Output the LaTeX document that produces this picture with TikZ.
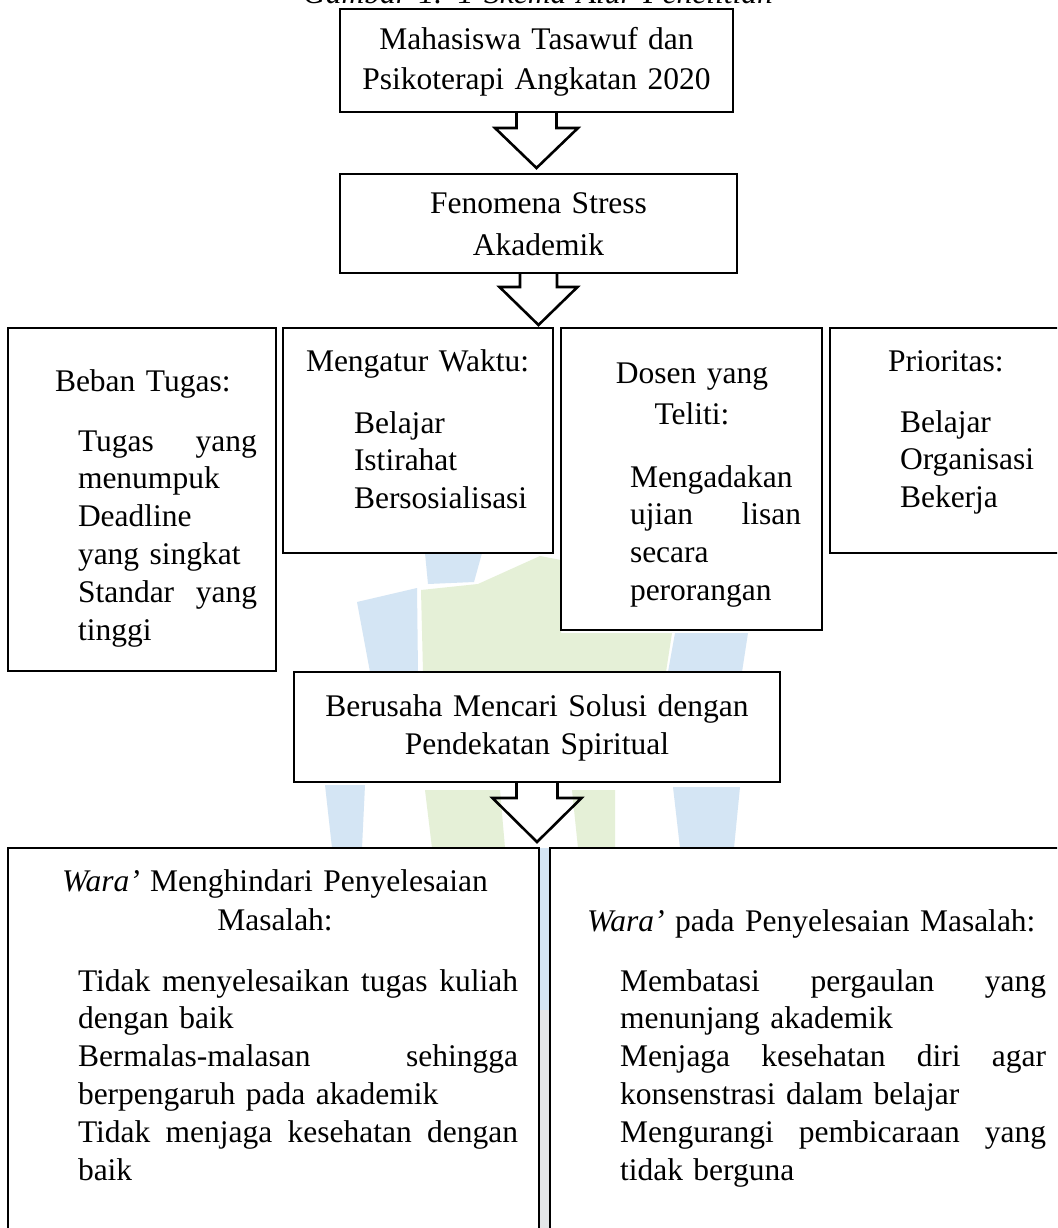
\documentclass[tikz,border=0pt]{standalone}
\usepackage{fontspec}
\setmainfont{Liberation Serif}
\usetikzlibrary{calc}
\definecolor{wblue}{RGB}{212,229,244}
\definecolor{wgreen}{RGB}{229,240,215}
\definecolor{wgray}{RGB}{228,230,232}
\newcommand\blockarrow[6]{%
  \draw[arrowline] let \p1=(#1.south), \p2=(#2.north) in
    (\x1-#3,\y1) -- (\x1-#3,\y1-#5) -- (\x1-#4,\y1-#5) -- (\x1,\y2+#6)
    -- (\x1+#4,\y1-#5) -- (\x1+#3,\y1-#5) -- (\x1+#3,\y1);
}
\tikzset{
  boxnode/.style={draw=black, line width=2.8pt, fill=white, inner sep=0pt, outer sep=0pt},
  arrowline/.style={draw=black, line width=2.6pt, line join=miter},
  body/.style={inner sep=0pt, outer sep=0pt, font=\fontsize{31.5}{37.8}\selectfont, align=left, anchor=base west},
  title/.style={inner sep=0pt, outer sep=0pt, font=\fontsize{31.5}{40}\selectfont, align=center, anchor=base},
}
\begin{document}
\begin{tikzpicture}[x=1pt, y=-1pt]
\useasboundingbox (0,0) rectangle (1057,1228);
\clip (0,0) rectangle (1057,1228);
\fill[white] (0,0) rectangle (1057,1228);

% faint watermark patches
\fill[wblue]  (357,602) -- (417,588) -- (418,672) -- (370,672) -- cycle;
\fill[wblue]  (425,553) -- (482,553) -- (474,582) -- (428,584) -- cycle;
\fill[wgreen] (421,590) -- (478,584) -- (540,556) -- (561,560) -- (561,672) -- (423,672) -- cycle;
\fill[wgreen] (561,633) -- (672,633) -- (666,672) -- (561,672) -- cycle;
\fill[wblue]  (675,633) -- (748,633) -- (742,672) -- (668,672) -- cycle;
\fill[wblue]  (325,785) -- (365,785) -- (362,848) -- (332,848) -- cycle;
\fill[wgreen] (425,790) -- (500,790) -- (505,848) -- (432,848) -- cycle;
\fill[wgreen] (572,790) -- (615,790) -- (615,848) -- (578,848) -- cycle;
\fill[wblue]  (673,787) -- (740,787) -- (734,848) -- (680,848) -- cycle;
\fill[wblue]  (539,848) rectangle (550,1010);
\fill[wgray]  (539,1010) rectangle (550,1228);

% caption (cut off at top edge, as in the original)
\node[title, font=\fontsize{31.5}{40}\selectfont\itshape, text width=600pt] (cap) at (538,4) {Gambar 1. 1 Skema Alur Penelitian};

% boxes
\node[boxnode, minimum width=393pt, minimum height=103pt] (b1) at (536.5,60.5) {};
\node[boxnode, minimum width=397pt, minimum height=99pt] (b2) at (538.5,223.5) {};
\node[boxnode, minimum width=268pt, minimum height=343pt] (b3) at (142,499.5) {};
\node[boxnode, minimum width=270pt, minimum height=225pt] (b4) at (418,440.5) {};
\node[boxnode, minimum width=261pt, minimum height=302pt] (b5) at (691.5,479) {};
\node[boxnode, minimum width=235pt, minimum height=225pt] (b6) at (947.5,440.5) {};
\node[boxnode, minimum width=486pt, minimum height=110pt] (b7) at (537,727) {};
\node[boxnode, minimum width=531pt, minimum height=392pt] (b8) at (273.5,1044) {};
\node[boxnode, minimum width=515pt, minimum height=392pt] (b9) at (807.5,1044) {};

% block arrows
\blockarrow{b1}{b2}{20pt}{41.5pt}{16pt}{6pt}
\blockarrow{b2}{b4}{18.5pt}{39pt}{14pt}{3pt}
\blockarrow{b7}{b8}{20.5pt}{44.5pt}{16pt}{6pt}

% texts
\node[title, text width=390pt] (t1) at (536.5,50) {Mahasiswa Tasawuf dan\\Psikoterapi Angkatan 2020};
\node[title, font=\fontsize{31.5}{42}\selectfont, text width=390pt] (t2) at (538.5,213) {Fenomena Stress\\Akademik};

\node[body, text width=230pt] (t3a) at (55,391) {Beban Tugas:};
\node[body, text width=179pt] (t3b) at (78,451) {Tugas\hfill yang\\menumpuk\\Deadline\\yang singkat\\Standar\hfill yang\\tinggi};

\node[body, text width=240pt] (t4a) at (306,371) {Mengatur Waktu:};
\node[body, text width=190pt] (t4b) at (354,433) {Belajar\\Istirahat\\Bersosialisasi};

\node[title, font=\fontsize{31.5}{41}\selectfont, text width=240pt] (t5a) at (692,383) {Dosen yang\\Teliti:};
\node[body, text width=171pt] (t5b) at (630,487) {Mengadakan\\ujian\hfill lisan\\secara\\perorangan};

\node[body, text width=160pt] (t6a) at (888,371) {Prioritas:};
\node[body, text width=150pt] (t6b) at (900,432) {Belajar\\Organisasi\\Bekerja};

\node[title, font=\fontsize{31.5}{38}\selectfont, text width=470pt] (t7) at (537,716) {Berusaha Mencari Solusi dengan\\Pendekatan Spiritual};

\node[title, font=\fontsize{31.5}{39}\selectfont, text width=500pt] (t8a) at (275,891) {\textit{Wara’} Menghindari Penyelesaian\\Masalah:};
\node[body, text width=440pt] (t8b) at (78,991) {Tidak\hfill menyelesaikan\hfill tugas\hfill kuliah\\dengan baik\\Bermalas-malasan\hfill sehingga\\berpengaruh pada akademik\\Tidak\hfill menjaga\hfill kesehatan\hfill dengan\\baik};

\node[body, text width=470pt] (t9a) at (587,931) {\textit{Wara’} pada Penyelesaian Masalah:};
\node[body, text width=426pt] (t9b) at (620,991) {Membatasi\hfill pergaulan\hfill yang\\menunjang akademik\\Menjaga\hfill kesehatan\hfill diri\hfill agar\\konsenstrasi dalam belajar\\Mengurangi\hfill pembicaraan\hfill yang\\tidak berguna};
\end{tikzpicture}
\end{document}
